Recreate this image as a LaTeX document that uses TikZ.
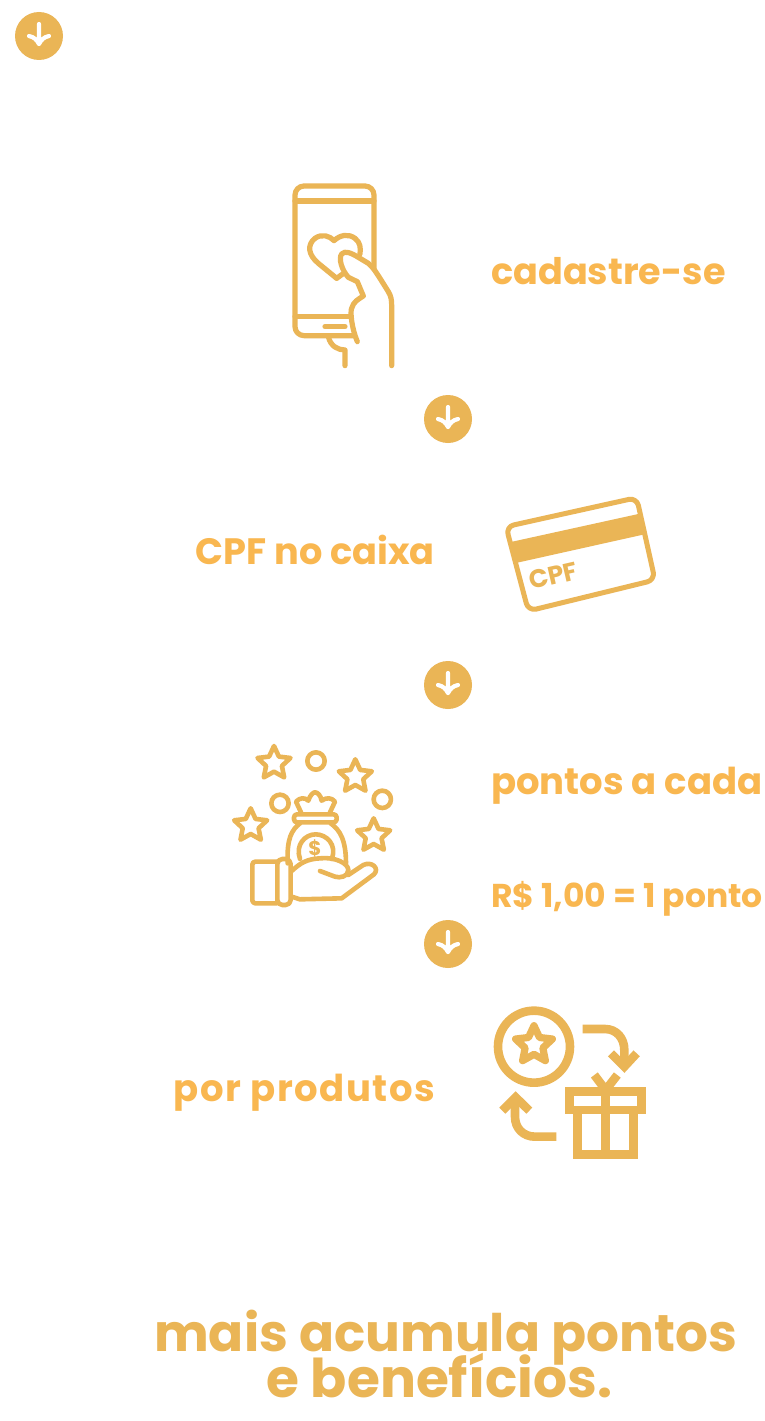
\documentclass[tikz,border=0pt]{standalone}
\usepackage{fontspec}
\setmainfont{Poppins}
\definecolor{gold}{HTML}{EAB556}
\definecolor{amber}{HTML}{F9B750}
\tikzset{
  x=1pt,y=-1pt,
  label/.style={inner sep=0pt,text=amber,font=\bfseries\fontsize{#1}{#1}\selectfont},
  title/.style={inner sep=0pt,text=gold,font=\bfseries\fontsize{#1}{#1}\selectfont},
  disc/.style={circle,fill=gold,minimum size=48pt,inner sep=0pt},
  icon/.style={draw=gold,line width=#1,line cap=round,line join=round},
  block/.style={draw=gold,line width=8.6pt},
  zoomed/.style={x=0.3333pt,y=-0.3333pt}
}
\newcommand{\downdisc}[3]{%
  \node[disc] (#1) at (#2,#3) {};
  \draw[white,line width=4.2pt,line cap=round,line join=round]
    ([yshift=12pt]#1.center) -- ([yshift=-8pt]#1.center)
    ([xshift=-10pt]#1.center) .. controls ([xshift=-5pt,yshift=-1pt]#1.center) and ([xshift=-2pt,yshift=-4pt]#1.center) .. ([yshift=-8pt]#1.center)
    .. controls ([xshift=2pt,yshift=-4pt]#1.center) and ([xshift=5pt,yshift=-1pt]#1.center) .. ([xshift=10pt]#1.center);
}
\begin{document}
\begin{tikzpicture}
\useasboundingbox (0,0) rectangle (765,1421);
\fill[white] (0,0) rectangle (765,1421);

\downdisc{d1}{39}{36}
\downdisc{d2}{448}{419}
\downdisc{d3}{448}{685}
\downdisc{d4}{448}{944}

\node[label=36.6,anchor=base west] (t1) at (491,284) {cadastre-se};
\node[label=36.7,anchor=base east] (t2) at (435,564) {CPF no caixa};
\node[label=37,anchor=base west] (t3) at (491,794) {pontos a cada};
\node[label=33,anchor=base west] (t4) at (491,907) {R\$ 1,00 = 1 ponto};
\node[label=37,anchor=base east] (t5) at (435,1101) {\addfontfeature{LetterSpace=4}por produtos};
\node[title=51.7,anchor=base] (t6) at (445.5,1351) {mais acumula pontos};
\node[title=53.4,anchor=base] (t7) at (439.5,1397) {e benefícios.};

% phone
\begin{scope}[shift={(270,170)},zoomed]
\draw[icon=5.2pt,rounded corners=9pt] (312,295) -- (312,48) -- (75,48) -- (75,497) -- (250,497);
\draw[icon=5.2pt] (75,93) -- (312,93);
\draw[icon=5.2pt] (75,440) -- (240,440);
\draw[icon=5.2pt] (165,470) -- (225,470);
\draw[icon=5.2pt] (175,500) .. controls (182,530) and (205,540) .. (225,540) -- (225,587);
\draw[icon=5.2pt] (200,325) -- (145,280) .. controls (115,255) and (110,225) .. (135,205)
  .. controls (155,190) and (180,198) .. (192,212) .. controls (210,195) and (235,190) .. (255,205)
  .. controls (272,218) and (272,235) .. (270,252);
\draw[icon=5.2pt] (200,325) -- (218,312);
\draw[icon=5.2pt] (262,515) .. controls (245,475) and (240,425) .. (245,415)
  .. controls (250,395) and (265,388) .. (280,378) -- (262,335) -- (235,322)
  .. controls (215,300) and (205,265) .. (215,252) .. controls (225,240) and (245,250) .. (265,262)
  -- (295,280) .. controls (310,292) and (320,310) .. (330,325) -- (355,365)
  .. controls (363,378) and (365,390) .. (365,405) -- (365,587);
\end{scope}

% card
\begin{scope}[shift={(490,485)},zoomed]
\draw[icon=5pt,rounded corners=8pt] (48,125) -- (440,38) -- (495,285) -- (115,378) -- cycle;
\fill[gold] (58,172) -- (445,87) -- (459,149) -- (73,235) -- cycle;
\node[title=25.5,rotate=13,text=gold] (cpf) at (190,272) {CPF};
\end{scope}

% money
\begin{scope}[shift={(220,735)},zoomed]
\foreach \n/\cx/\cy in {a/162/85,b/406/125,c/92/272,d/461/302}{
  \draw[icon=4.6pt,shift={(\cx,\cy)}]
   (-90:52) -- (-54:25) -- (-18:52) -- (18:25) -- (54:52) -- (90:25) -- (126:52) -- (162:25) -- (198:52) -- (234:25) -- cycle;
}
\draw[icon=4.6pt] (288,78) circle[radius=26];
\draw[icon=4.6pt] (180,205) circle[radius=26];
\draw[icon=4.6pt] (487,193) circle[radius=26];
\draw[icon=4.6pt] (243,232) -- (228,200) .. controls (240,187) and (255,187) .. (265,197) .. controls (270,180) and (280,172) .. (285,172) .. controls (292,172) and (302,180) .. (305,197) .. controls (318,187) and (335,187) .. (345,200) -- (330,232);
\draw[icon=4.6pt,rounded corners=3pt] (222,238) rectangle (350,262);
\draw[icon=4.6pt] (240,265) .. controls (215,285) and (200,310) .. (203,385);
\draw[icon=4.6pt] (332,265) .. controls (360,285) and (378,315) .. (378,385);
\draw[icon=4.6pt] (240,372) .. controls (225,330) and (255,298) .. (287,298) .. controls (320,298) and (352,330) .. (335,372);
\node[title=20,text=gold] (dollar) at (285,340) {\$};
\draw[icon=4.6pt,rounded corners=3pt] (170,380) -- (97,380) -- (97,505) -- (170,505);
\draw[icon=4.6pt,rounded corners=5pt] (172,372) rectangle (212,510);
\draw[icon=4.6pt] (215,408) .. controls (240,385) and (260,372) .. (300,370) .. controls (345,365) and (385,385) .. (385,405) .. controls (385,425) and (360,430) .. (345,425) -- (300,408);
\draw[icon=4.6pt] (385,420) -- (430,390) .. controls (455,378) and (480,400) .. (462,418) -- (365,490) -- (240,493) -- (215,485);
\end{scope}

% gift
\begin{scope}[shift={(485,995)},zoomed]
\draw[block] (147,155) circle[radius=108];
\draw[icon=7.2pt,shift={(147,150)}]
   (-90:58) -- (-54:28) -- (-18:58) -- (18:28) -- (54:58) -- (90:28) -- (126:58) -- (162:28) -- (198:58) -- (234:28) -- cycle;
\draw[block] (293,102) -- (360,102) .. controls (395,102) and (418,130) .. (418,165) -- (418,212);
\draw[block] (378,175) -- (418,215) -- (455,175);
\draw[block] (214,425) -- (150,425) .. controls (115,425) and (90,400) .. (90,365) -- (90,310);
\draw[block] (52,347) -- (92,307) -- (133,347);
\draw[block] (254,290) rectangle (470,345);
\draw[block] (277,345) -- (277,478) -- (445,478) -- (445,345);
\draw[block] (362,290) -- (362,478);
\draw[block] (328,240) -- (362,285) -- (397,240);
\end{scope}
\end{tikzpicture}
\end{document}
